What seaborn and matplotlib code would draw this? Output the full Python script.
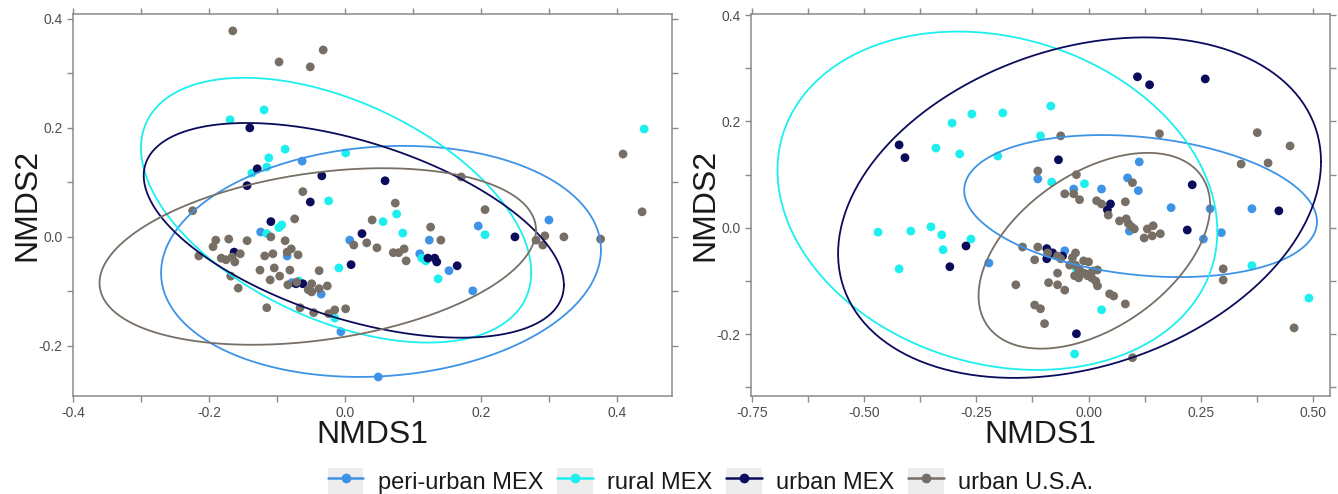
import numpy as np
import pandas as pd
import matplotlib
matplotlib.use("Agg")
import matplotlib.pyplot as plt
import seaborn as sns
from matplotlib.lines import Line2D
from matplotlib.patches import Rectangle
from matplotlib.ticker import MultipleLocator, FormatStrFormatter

# ── Groups & colours ─────────────────────────────────────────
GROUPS = ["peri-urban MEX", "rural MEX", "urban MEX", "urban U.S.A."]
COLORS = ["#3E93E6", "#1DEFEF", "#0B0B5C", "#776F65"]

# ── Panel 1 (left) points ────────────────────────────────────
p1_peri_x = [-0.063, -0.124, 0.007, -0.085, -0.078, -0.035, -0.006, 0.049, 0.196, 0.300, 0.124, 0.110, 0.153, 0.188]
p1_peri_y = [0.139, 0.009, -0.006, -0.035, -0.084, -0.105, -0.174, -0.257, 0.020, 0.031, -0.006, -0.031, -0.062, -0.099]

p1_rural_x = [-0.169, -0.119, -0.088, -0.112, 0.001, -0.115, -0.137, -0.024, 0.076, 0.056, -0.093,
              -0.097, -0.115, 0.085, -0.009, -0.068, -0.015, 0.113, 0.119, 0.137, 0.206, 0.440]
p1_rural_y = [0.215, 0.233, 0.161, 0.145, 0.154, 0.128, 0.117, 0.066, 0.042, 0.028, 0.022,
              0.017, 0.006, 0.007, -0.057, -0.081, -0.149, -0.039, -0.044, -0.077, 0.004, 0.198]

p1_urban_x = [-0.140, -0.129, -0.034, -0.144, 0.059, -0.051, -0.109, 0.025, -0.163, 0.009, -0.072,
              -0.062, 0.122, 0.132, 0.135, 0.165, 0.250]
p1_urban_y = [0.200, 0.125, 0.112, 0.094, 0.103, 0.064, 0.028, 0.006, -0.028, -0.051, -0.086,
              -0.086, -0.039, -0.039, -0.046, -0.053, 0.000]

p1_usa_x = [-0.165, -0.097, -0.051, -0.032, -0.062, 0.074, -0.224, -0.074, 0.040, -0.109, -0.190,
            -0.171, -0.144, -0.088, 0.013, 0.032, 0.047, -0.194, -0.079, -0.085, -0.154, -0.215,
            -0.182, -0.175, -0.166, -0.162, -0.118, -0.106, -0.069, 0.071, 0.079, 0.087, 0.090,
            -0.125, -0.104, -0.081, -0.038, -0.168, -0.096, -0.110, -0.084, -0.071, -0.049, -0.054,
            -0.049, -0.038, -0.026, -0.157, -0.115, -0.066, -0.046, -0.024, -0.015, 0.001, 0.171,
            0.206, 0.126, 0.141, 0.281, 0.294, 0.291, 0.322, 0.376, 0.409, 0.437]
p1_usa_y = [0.378, 0.321, 0.312, 0.343, 0.083, 0.062, 0.048, 0.033, 0.031, 0.000, -0.006,
            -0.004, -0.007, -0.007, -0.015, -0.011, -0.020, -0.018, -0.022, -0.028, -0.031, -0.035,
            -0.039, -0.042, -0.037, -0.046, -0.035, -0.031, -0.033, -0.029, -0.029, -0.022, -0.044,
            -0.061, -0.057, -0.061, -0.062, -0.072, -0.072, -0.079, -0.088, -0.083, -0.086, -0.097,
            -0.101, -0.095, -0.090, -0.094, -0.130, -0.130, -0.139, -0.141, -0.134, -0.132, 0.110,
            0.050, 0.018, -0.006, -0.006, 0.002, -0.015, 0.000, -0.004, 0.152, 0.046]

# ── Panel 2 (right) points ───────────────────────────────────
p2_peri_x = [-0.113, 0.113, 0.087, 0.111, -0.033, 0.029, -0.053, -0.222, 0.184, 0.271, 0.364, 0.296, 0.256, 0.091]
p2_peri_y = [0.092, 0.124, 0.094, 0.070, 0.073, 0.073, -0.043, -0.066, 0.038, 0.036, 0.036, -0.009, -0.021, -0.006]

p2_rural_x = [-0.304, -0.260, -0.191, -0.340, -0.287, -0.202, -0.107, -0.084, -0.082, -0.009, -0.469,
              -0.396, -0.351, -0.327, -0.324, -0.262, -0.422, -0.027, 0.364, 0.491, 0.029, -0.031]
p2_rural_y = [0.197, 0.214, 0.216, 0.150, 0.139, 0.135, 0.173, 0.229, 0.086, 0.083, -0.008,
              -0.006, 0.002, -0.013, -0.041, -0.021, -0.077, -0.077, -0.071, -0.132, -0.154, -0.237]

p2_urban_x = [-0.422, -0.409, 0.109, 0.136, 0.260, -0.067, -0.273, -0.309, 0.231, 0.049, 0.042,
              0.220, 0.424, -0.093, -0.080, -0.093, -0.058, -0.027]
p2_urban_y = [0.156, 0.132, 0.284, 0.269, 0.280, 0.128, -0.034, -0.073, 0.081, 0.045, 0.034,
              -0.004, 0.032, -0.039, -0.047, -0.058, -0.053, -0.199]

p2_usa_x = [-0.113, -0.062, 0.158, 0.376, 0.449, 0.340, 0.400, -0.027, -0.053, -0.033, -0.020,
            0.098, 0.018, 0.029, 0.044, 0.082, 0.069, 0.084, 0.089, 0.096, 0.102, 0.131, 0.124,
            0.144, 0.142, 0.160, 0.300, 0.300, 0.458, 0.098, -0.147, -0.113, -0.120, -0.091,
            -0.069, -0.062, -0.029, -0.036, -0.042, -0.029, -0.011, 0.000, -0.022, -0.016, -0.007,
            0.002, 0.009, 0.020, -0.031, -0.022, -0.002, 0.007, 0.016, 0.020, -0.069, -0.089,
            -0.069, -0.053, -0.162, 0.047, 0.056, 0.082, -0.120, -0.107, -0.098]
p2_usa_y = [0.107, 0.173, 0.177, 0.179, 0.154, 0.120, 0.122, 0.100, 0.064, 0.064, 0.053,
            0.085, 0.051, 0.045, 0.024, 0.049, 0.013, 0.017, 0.008, 0.002, -0.002, -0.002, -0.019,
            0.004, -0.015, -0.011, -0.077, -0.098, -0.188, -0.244, -0.036, -0.036, -0.060, -0.047,
            -0.053, -0.058, -0.047, -0.056, -0.070, -0.070, -0.062, -0.064, -0.077, -0.083, -0.086,
            -0.088, -0.081, -0.079, -0.090, -0.094, -0.090, -0.094, -0.100, -0.109, -0.085, -0.103,
            -0.107, -0.117, -0.107, -0.124, -0.128, -0.143, -0.145, -0.152, -0.180]

# ── 95% ellipses: centre, half-extents, correlation ──
p1_ell_cx = [0.053, -0.013, 0.013, -0.040]
p1_ell_cy = [-0.045, 0.049, 0.012, -0.036]
p1_ell_sx = [0.3235, 0.287, 0.309, 0.321]
p1_ell_sy = [0.212, 0.243, 0.197, 0.162]
p1_ell_r = [0.10, -0.47, -0.51, 0.30]

p2_ell_cx = [0.116, -0.203, -0.020, 0.013]
p2_ell_cy = [0.041, 0.051, 0.038, -0.043]
p2_ell_sx = [0.393, 0.490, 0.538, 0.258]
p2_ell_sy = [0.1335, 0.318, 0.320, 0.184]
p2_ell_r = [-0.22, -0.18, 0.27, 0.46]

# ── Style ────────────────────────────────────────────────────
sns.set_style("ticks")
plt.rcParams["font.family"] = ["Liberation Sans", "DejaVu Sans"]
plt.rcParams["axes.unicode_minus"] = False


def make_df(xs, ys):
    rows = []
    for g, x, y in zip(GROUPS, xs, ys):
        rows += [{"NMDS1": a, "NMDS2": b, "group": g} for a, b in zip(x, y)]
    return pd.DataFrame(rows)


df1 = make_df([p1_peri_x, p1_rural_x, p1_urban_x, p1_usa_x],
              [p1_peri_y, p1_rural_y, p1_urban_y, p1_usa_y])
df2 = make_df([p2_peri_x, p2_rural_x, p2_urban_x, p2_usa_x],
              [p2_peri_y, p2_rural_y, p2_urban_y, p2_usa_y])

fig = plt.figure(figsize=(13.38, 4.94), dpi=100)
ax1 = fig.add_axes([73 / 1338, 1 - 396 / 494, 599 / 1338, 382 / 494])
ax2 = fig.add_axes([751 / 1338, 1 - 396 / 494, 579 / 1338, 382 / 494])

t = np.linspace(0, 2 * np.pi, 300)


def draw_panel(ax, df, cx, cy, sx, sy, r):
    sns.scatterplot(data=df, x="NMDS1", y="NMDS2", hue="group", hue_order=GROUPS,
                    palette=COLORS, s=40, linewidth=0, legend=False, ax=ax, zorder=2)
    for i, col in enumerate(COLORS):
        ex = cx[i] + sx[i] * np.cos(t)
        ey = cy[i] + sy[i] * (r[i] * np.cos(t) + np.sqrt(1 - r[i] ** 2) * np.sin(t))
        ax.plot(ex, ey, color=col, lw=1.3, zorder=3)
    ax.set_xlabel("NMDS1", fontsize=23, color="#1a1a1a", labelpad=0)
    ax.set_ylabel("NMDS2", fontsize=23, color="#1a1a1a", labelpad=-3)
    for side in ["top", "right", "left", "bottom"]:
        ax.spines[side].set_visible(True)
        ax.spines[side].set_color("#8a8a8a")
        ax.spines[side].set_linewidth(1.1)
    ax.tick_params(which="both", direction="out", top=True, right=True,
                   bottom=True, left=True, color="#8a8a8a", width=1.0)
    ax.tick_params(which="major", length=4, labelsize=10, labelcolor="#4d4d4d",
                   labeltop=False, labelright=False, labelbottom=True, labelleft=True)
    ax.tick_params(which="minor", length=4)
    ax.tick_params(axis="both", which="major", colors="#4d4d4d")
    ax.tick_params(which="both", color="#8a8a8a")


draw_panel(ax1, df1, p1_ell_cx, p1_ell_cy, p1_ell_sx, p1_ell_sy, p1_ell_r)
ax1.set_xlim(-0.400, 0.481)
ax1.set_ylim(-0.292, 0.409)
ax1.xaxis.set_major_locator(MultipleLocator(0.2))
ax1.xaxis.set_minor_locator(MultipleLocator(0.1))
ax1.yaxis.set_major_locator(MultipleLocator(0.2))
ax1.yaxis.set_minor_locator(MultipleLocator(0.1))
ax1.xaxis.set_major_formatter(FormatStrFormatter("%.1f"))
ax1.yaxis.set_major_formatter(FormatStrFormatter("%.1f"))

draw_panel(ax2, df2, p2_ell_cx, p2_ell_cy, p2_ell_sx, p2_ell_sy, p2_ell_r)
ax2.set_xlim(-0.752, 0.538)
ax2.set_ylim(-0.316, 0.402)
ax2.xaxis.set_major_locator(MultipleLocator(0.25))
ax2.xaxis.set_minor_locator(MultipleLocator(0.125))
ax2.yaxis.set_major_locator(MultipleLocator(0.2))
ax2.yaxis.set_minor_locator(MultipleLocator(0.1))
ax2.xaxis.set_major_formatter(FormatStrFormatter("%.2f"))
ax2.yaxis.set_major_formatter(FormatStrFormatter("%.1f"))

# ── Legend ───────────────────────────────────────────────────
handles = [(Rectangle((0, 0), 1, 1, facecolor="#EDEDED", edgecolor="none"),
            Line2D([], [], color=c, lw=1.8, marker="o", markersize=6))
           for c in COLORS]
fig.legend(handles, GROUPS, loc="lower center", bbox_to_anchor=(0.531, -0.045), ncol=4,
           frameon=False, fontsize=17, handlelength=1.5, handleheight=1.4,
           columnspacing=0.6, handletextpad=0.6, labelcolor="#1a1a1a")

plt.savefig("out.png", dpi=100)
plt.close()
